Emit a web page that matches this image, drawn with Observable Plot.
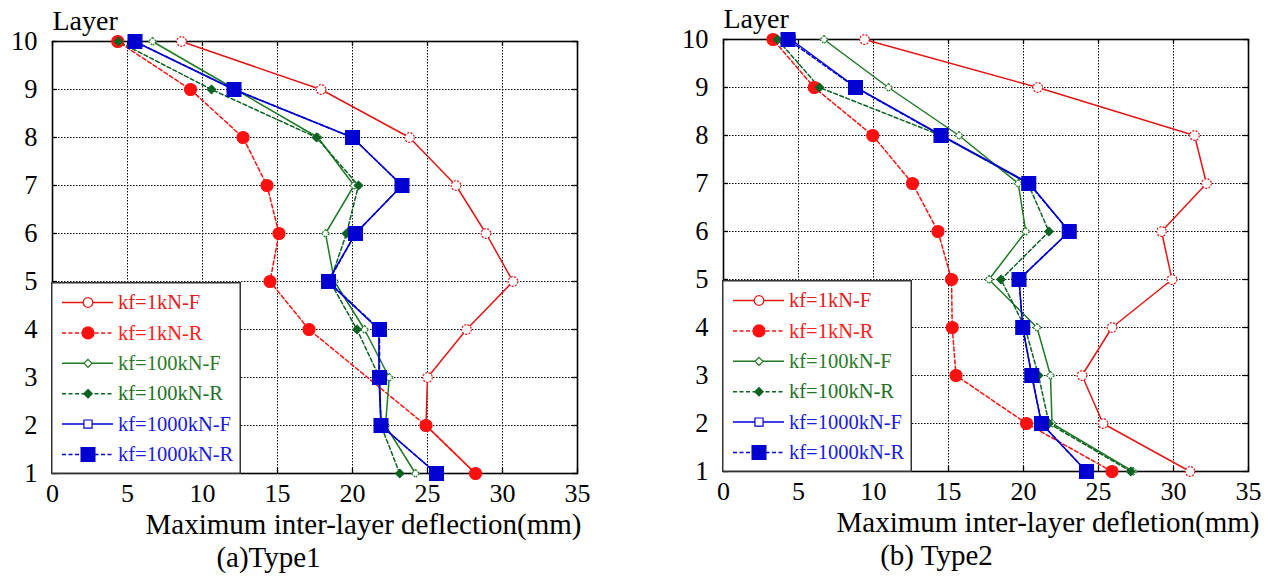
<!DOCTYPE html>
<html><head><meta charset="utf-8">
<script src="https://cdn.jsdelivr.net/npm/d3@7"></script>
<script src="https://cdn.jsdelivr.net/npm/@observablehq/plot@0.6"></script>
<style>
body{margin:0;background:#fff;}
#wrap{position:relative;width:1273px;height:577px;overflow:hidden;background:#fff;}
.panel{position:absolute;}
.panel svg{overflow:visible;}
.legend{position:absolute;overflow:visible;}
</style></head><body><div id="wrap"></div>
<script>
// ---- data ----
const layers = [1, 2, 3, 4, 5, 6, 7, 8, 9, 10];
const xTicks = [0, 5, 10, 15, 20, 25, 30, 35];
const seriesNames = ["kf=1kN-F", "kf=1kN-R", "kf=100kN-F", "kf=100kN-R", "kf=1000kN-F", "kf=1000kN-R"];

// Type1 values, layer 1 .. 10 (null = no point)
const type1_1kN_F    = [28.2, 24.9, 25.0, 27.6, 30.7, 28.9, 26.9, 23.8, 17.9, 8.6];
const type1_1kN_R    = [28.2, 24.9, null, 17.1, 14.5, 15.1, 14.3, 12.7, 9.2, 4.35];
const type1_100kN_F  = [24.2, 22.2, 22.45, 20.8, 18.8, 18.2, 20.1, 17.7, 12.2, 6.67];
const type1_100kN_R  = [23.15, 21.9, 21.8, 20.3, 18.5, 19.6, 20.4, 17.6, 10.6, 4.4];
const type1_1000kN_F = [25.6, 21.9, 21.76, 21.76, 18.35, 20.2, 23.3, 20.0, 12.1, 5.48];
const type1_1000kN_R = [25.6, 21.9, 21.8, 21.8, 18.4, 20.2, 23.3, 20.0, 12.1, 5.5];

// Type2 values, layer 1 .. 10
const type2_1kN_F    = [31.1, 25.3, 23.9, 25.9, 29.9, 29.2, 32.2, 31.4, 20.95, 9.4];
const type2_1kN_R    = [25.9, 20.2, 15.5, 15.25, 15.2, 14.3, 12.6, 9.95, 6.05, 3.3];
const type2_100kN_F  = [27.3, 21.9, 21.8, 20.9, 17.7, 20.15, 19.65, 15.7, 11.0, 6.7];
const type2_100kN_R  = [27.15, 21.7, 21.0, 20.1, 18.5, 21.7, 20.3, 14.5, 6.4, 3.6];
const type2_1000kN_F = [24.2, 21.2, 20.55, 19.95, 19.7, 23.05, 20.4, 14.55, 8.85, 4.5];
const type2_1000kN_R = [24.2, 21.2, 20.55, 19.95, 19.7, 23.05, 20.35, 14.5, 8.8, 4.3];

const xLabel1 = "Maximum inter-layer deflection(mm)";
const xLabel2 = "Maximum inter-layer defletion(mm)";
const caption1 = "(a)Type1";
const caption2 = "(b) Type2";
const yTitle = "Layer";

// ---- styles ----
const styles = [
  {color: "#e41515", dash: null, symbol: "circle", r: 4.8, fill: "white", mdash: "2,1.3", text: "#e02020"},
  {color: "#ff1010", dash: "4,2.5", symbol: "circle", r: 6, fill: "#ff1010", mdash: null, text: "#ff2020"},
  {color: "#1f7a25", dash: null, symbol: "diamond2", r: 3.6, fill: "white", mdash: "2,1", text: "#2a7a2a"},
  {color: "#0b6322", dash: "4,2.5", symbol: "diamond2", r: 3.8, fill: "#0b6322", mdash: null, text: "#237027"},
  {color: "#0000d8", dash: null, symbol: "square", r: 4.6, fill: "white", mdash: null, text: "#1a1ae0"},
  {color: "#0000d0", dash: "4,2.5", symbol: "square", r: 7.8, fill: "#0000d0", mdash: null, text: "#1a1ae0"}
];
const symbolMap = {circle: d3.symbolCircle, diamond2: d3.symbolDiamond2, square: d3.symbolSquare};
const FONT = "'Liberation Serif','Times New Roman',serif";

function makePanel(vals, xLabel, caption, opts) {
  const rows = [];
  seriesNames.forEach((name, i) => vals[i].forEach((v, j) => {
    if (v != null) rows.push({series: name, layer: layers[j], value: v});
  }));
  const fw = 525, fh = 432;
  const marks = [
    Plot.gridX(xTicks, {stroke: "#000", strokeOpacity: 1, strokeWidth: 1, strokeDasharray: "1.5,1.5"}),
    Plot.gridY(layers, {stroke: "#000", strokeOpacity: 1, strokeWidth: 1, strokeDasharray: "1.5,1.5"}),
    Plot.tickX(xTicks, {x: d => d, insetTop: fh - 5, stroke: "#000", strokeWidth: 1.3}),
    Plot.tickX(xTicks, {x: d => d, insetBottom: fh - 5, stroke: "#000", strokeWidth: 1.3}),
    Plot.tickY(layers, {y: d => d, insetRight: fw - 5, stroke: "#000", strokeWidth: 1.3}),
    Plot.tickY(layers, {y: d => d, insetLeft: fw - 5, stroke: "#000", strokeWidth: 1.3}),
    Plot.frame({stroke: "#000", strokeWidth: 1.6}),
    Plot.axisX(xTicks, {tickSize: 0, tickPadding: 10, fontSize: 26, label: null}),
    Plot.axisY(layers, {tickSize: 0, tickPadding: 15, fontSize: 26.5, label: null}),
    Plot.text([yTitle], {text: d => d, frameAnchor: "top-left", textAnchor: "start", lineAnchor: "middle", dy: -20, fontSize: 28}),
    Plot.text([xLabel], {text: d => d, frameAnchor: "bottom", lineAnchor: "middle", dx: opts.labelDx, dy: 51, fontSize: 29}),
    Plot.text([caption], {text: d => d, frameAnchor: "bottom", lineAnchor: "middle", dx: opts.capDx, dy: 84, fontSize: 29})
  ];
  styles.forEach((s, i) => {
    const d = rows.filter(r => r.series === seriesNames[i]);
    marks.push(Plot.line(d, {x: "value", y: "layer", sort: "layer", stroke: s.color, strokeWidth: 1.5,
      strokeDasharray: s.dash}));
  });
  styles.forEach((s, i) => {
    const d = rows.filter(r => r.series === seriesNames[i]);
    marks.push(Plot.dot(d, {x: "value", y: "layer", symbol: s.symbol, r: s.r, fill: s.fill,
      stroke: s.color, strokeWidth: 1.2, strokeDasharray: s.mdash}));
  });
  const chart = Plot.plot({
    width: 601, height: 577,
    marginLeft: 52, marginRight: 24, marginTop: opts.top, marginBottom: 577 - opts.top - fh,
    x: {domain: [0, 35]},
    y: {domain: [1, 10]},
    style: {fontFamily: FONT, fontSize: "27px", background: "transparent", color: "#000"},
    marks
  });
  const div = document.createElement("div");
  div.className = "panel";
  div.style.left = opts.left + "px";
  div.style.top = "0px";
  div.appendChild(chart);
  document.getElementById("wrap").appendChild(div);

  // legend box inside the frame, bottom-left
  const lw = 190, lh = 192;
  const lg = d3.create("svg").attr("class", "legend").attr("width", lw).attr("height", lh)
    .style("left", (opts.left + 52 - 1.5) + "px").style("top", (opts.top + fh - lh + 0.5) + "px");
  lg.append("rect").attr("x", 0.75).attr("y", 0.75).attr("width", lw - 1.5).attr("height", lh - 1.5)
    .attr("fill", "white").attr("stroke", "#333").attr("stroke-width", 1.5);
  styles.forEach((s, i) => {
    const y = 20.5 + i * 30.4;
    lg.append("line").attr("x1", 11).attr("x2", 62).attr("y1", y).attr("y2", y)
      .attr("stroke", s.color).attr("stroke-width", 1.5).attr("stroke-dasharray", s.dash);
    lg.append("path").attr("transform", `translate(37,${y})`)
      .attr("d", d3.symbol(symbolMap[s.symbol], Math.PI * s.r * s.r)())
      .attr("fill", s.fill).attr("stroke", s.color).attr("stroke-width", 1.2);
    lg.append("text").attr("x", 67).attr("y", y).attr("dy", "0.33em")
      .attr("fill", s.text).style("font-family", FONT).style("font-size", "20.5px").text(seriesNames[i]);
  });
  document.getElementById("wrap").appendChild(lg.node());
}

makePanel([type1_1kN_F, type1_1kN_R, type1_100kN_F, type1_100kN_R, type1_1000kN_F, type1_1000kN_R],
  xLabel1, caption1, {left: 0, top: 41, labelDx: 48.5, capDx: -46.5});
makePanel([type2_1kN_F, type2_1kN_R, type2_100kN_F, type2_100kN_R, type2_1000kN_F, type2_1000kN_R],
  xLabel2, caption2, {left: 671, top: 39, labelDx: 62, capDx: -49.5});
</script></body></html>
